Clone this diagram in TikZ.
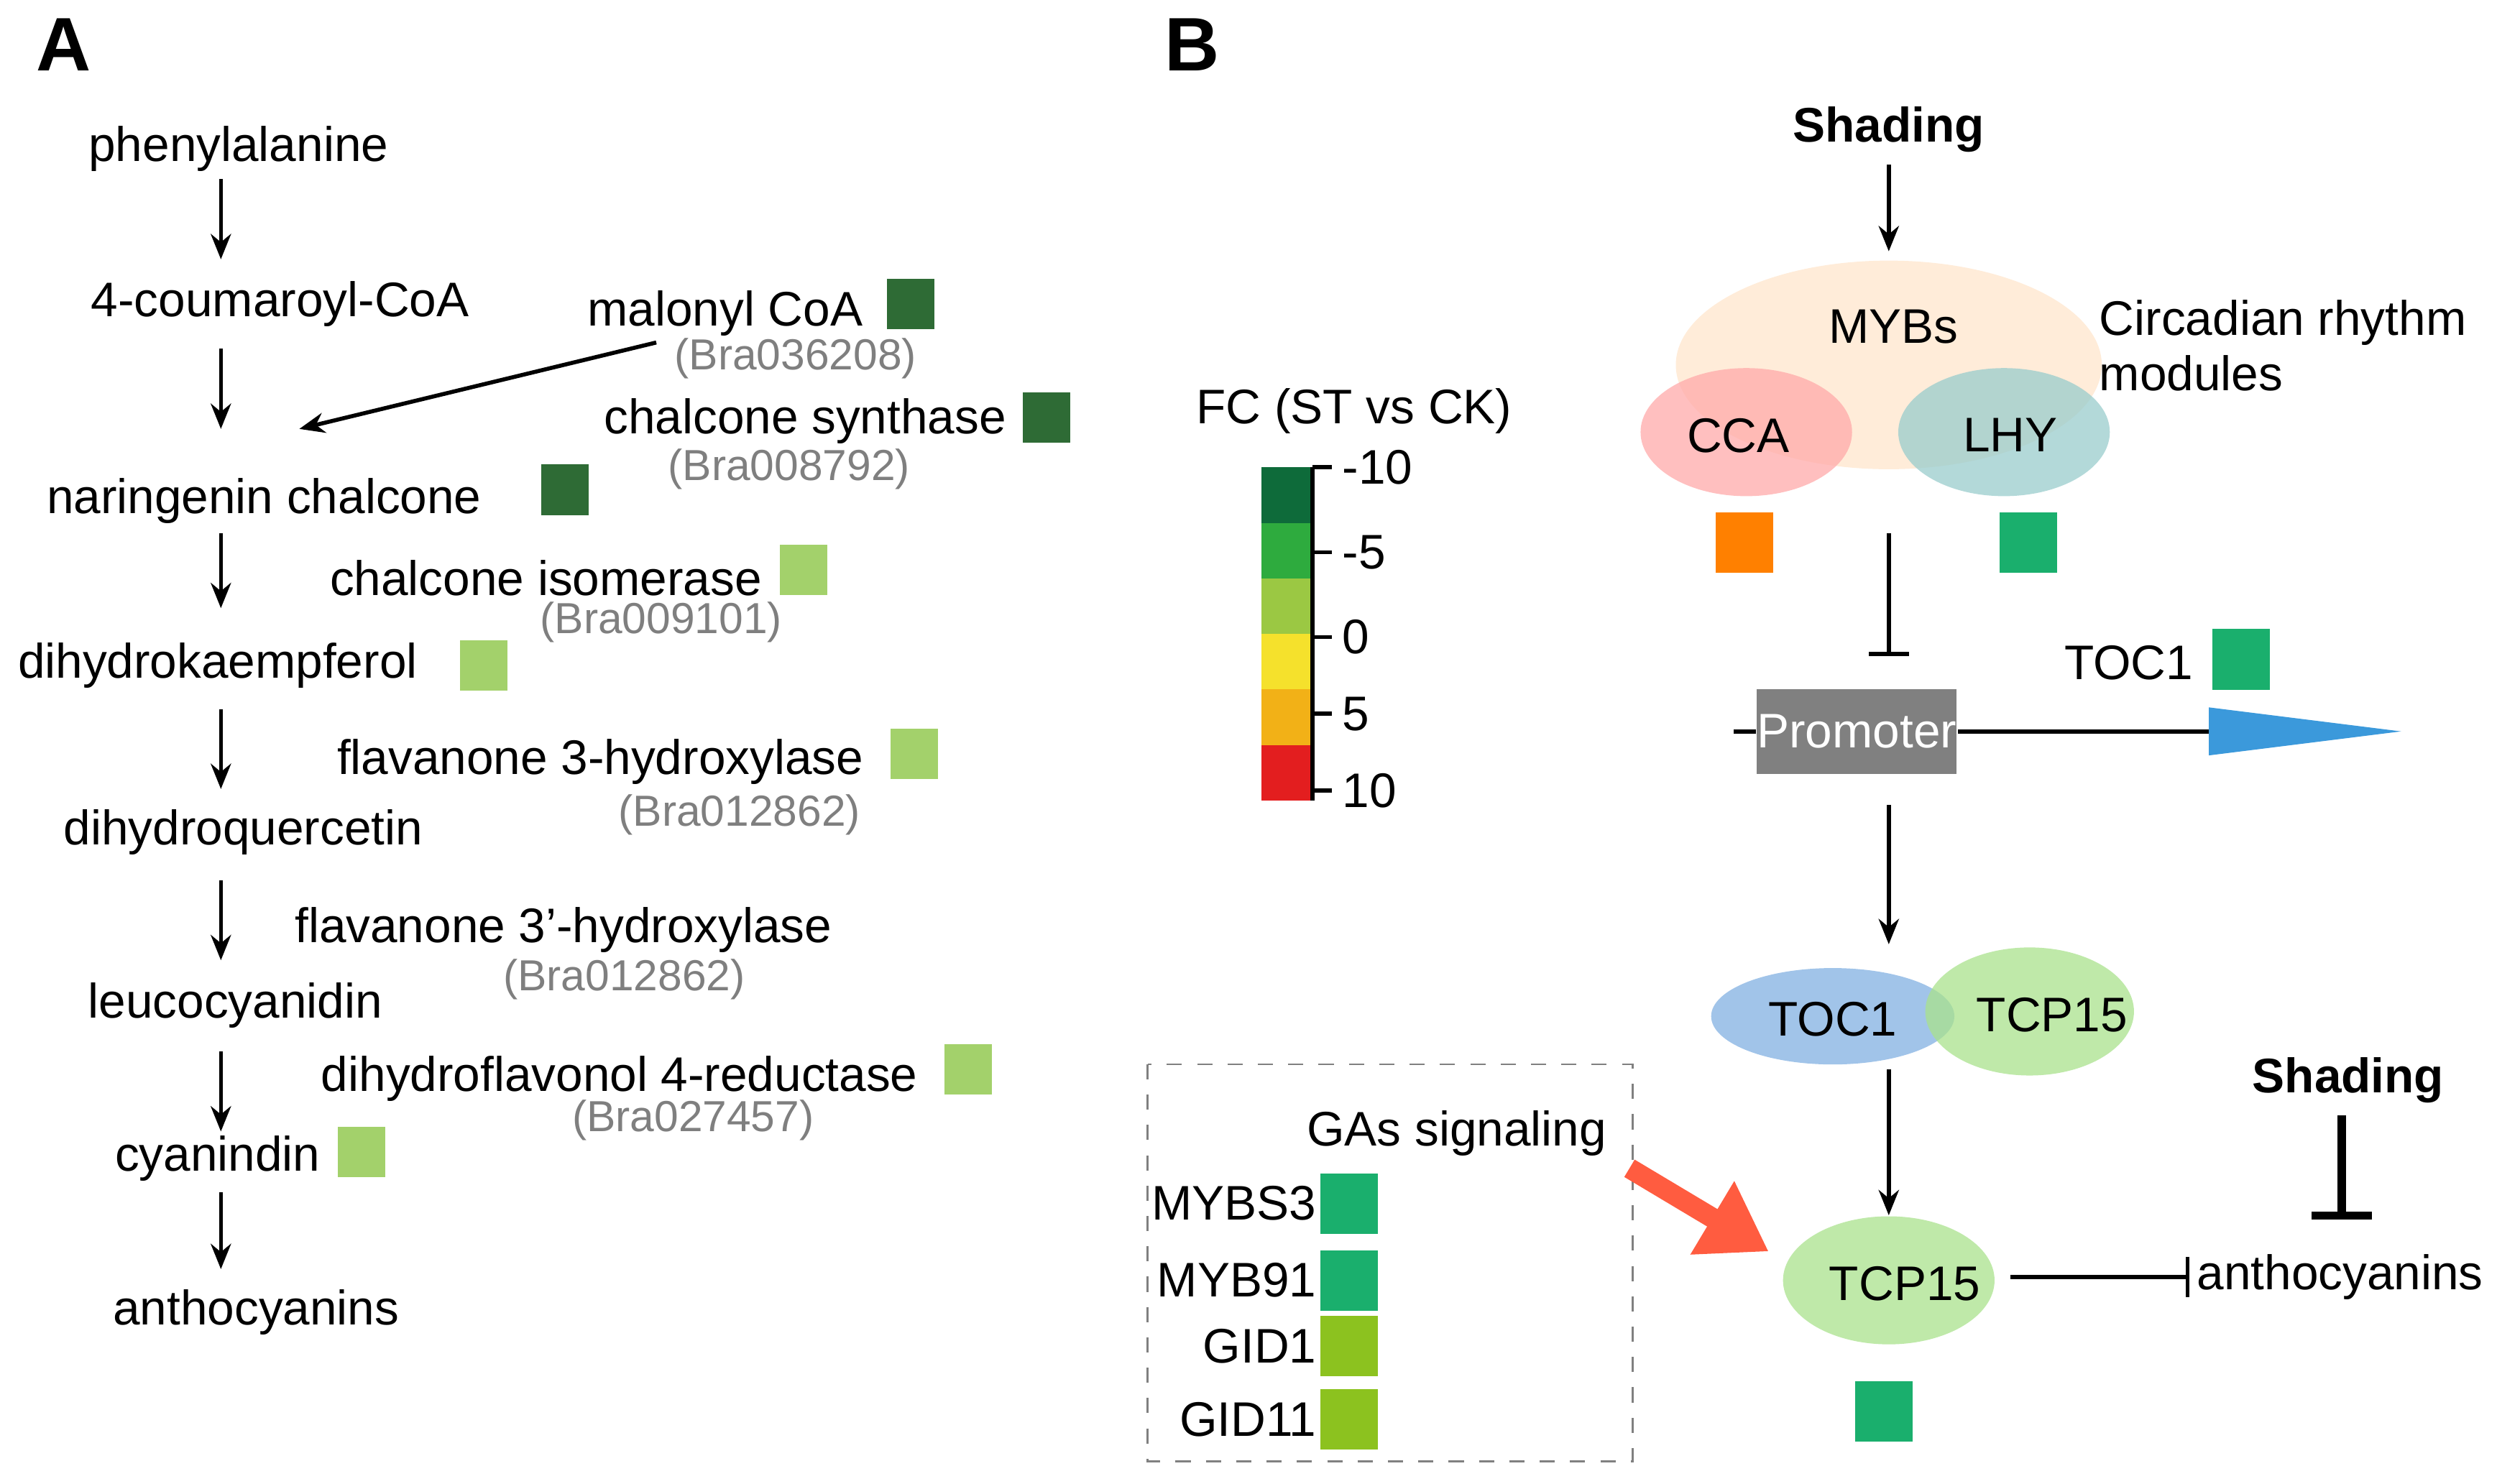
\documentclass[tikz,border=0pt]{standalone}
\usepackage{fontspec}
\setmainfont{Liberation Sans}
\usetikzlibrary{arrows.meta,shapes.geometric}
\definecolor{dgreen}{HTML}{2E6B35}
\definecolor{lgreen}{HTML}{A3D16B}
\definecolor{mgreen}{HTML}{1AAF6D}
\definecolor{ygreen}{HTML}{8CC21F}
\definecolor{gtext}{HTML}{7F7F7F}
\tikzset{
  lbl/.style={font=\fontsize{9.6}{11}\selectfont, inner sep=0pt},
  gene/.style={font=\fontsize{8.6}{10}\selectfont, text=gtext, inner sep=0pt},
  sq/.style={minimum width=0.33cm, minimum height=0.35cm, inner sep=0pt},
  bsq/.style={minimum width=0.4cm, minimum height=0.42cm, inner sep=0pt},
  flow/.style={-{Stealth[length=5pt,width=4pt]}, thick},
  inh/.style={-{Bar[width=8pt]}, thick},
  oval/.style={ellipse, inner sep=0pt, fill opacity=0.75, text opacity=1}
}
\begin{document}
\begin{tikzpicture}[x=0.01113cm, y=-0.01113cm]
    \useasboundingbox (0,0) rectangle (1560,927);

    % panel A
    \node [font=\fontsize{15}{17}\selectfont\bfseries] (la) at (40,28) {A};
    \node [lbl] (phe) at (149,93) {phenylalanine};
    \node [lbl] (cou) at (175,190) {4-coumaroyl-CoA};
    \node [lbl] (nar) at (165,313) {naringenin chalcone};
    \node [lbl] (dhk) at (136,416) {dihydrokaempferol};
    \node [lbl] (dhq) at (152,520) {dihydroquercetin};
    \node [lbl] (leu) at (147,628) {leucocyanidin};
    \node [lbl] (cya) at (136,724) {cyanindin};
    \node [lbl] (ant) at (160,820) {anthocyanins};

    \coordinate (a1) at (138,112); \coordinate (b1) at (138,162);
    \coordinate (a2) at (138,218); \coordinate (b2) at (138,268);
    \coordinate (a3) at (138,333); \coordinate (b3) at (138,380);
    \coordinate (a4) at (138,443); \coordinate (b4) at (138,493);
    \coordinate (a5) at (138,550); \coordinate (b5) at (138,600);
    \coordinate (a6) at (138,657); \coordinate (b6) at (138,707);
    \coordinate (a7) at (138,745); \coordinate (b7) at (138,793);
    \foreach \i in {1,...,7}
      \draw [flow] (a\i) -- (b\i);

    \node [lbl] (mal) at (453,196) {malonyl CoA};
    \node [sq, fill=dgreen] (smal) at (569,190) {};
    \node [gene] (gmal) at (497,224) {(Bra036208)};
    \coordinate (mfrom) at (410,214);
    \coordinate (mto) at (187,268);
    \draw [flow] (mfrom) -- (mto);
    \node [lbl] (chs) at (503,263) {chalcone synthase};
    \node [sq, fill=dgreen] (schs) at (654,261) {};
    \node [gene] (gchs) at (493,293) {(Bra008792)};
    \node [sq, fill=dgreen] (snar) at (353,306) {};
    \node [lbl] (chi) at (341,361) {chalcone isomerase};
    \node [sq, fill=lgreen] (schi) at (502,356) {};
    \node [gene] (gchi) at (413,389) {(Bra009101)};
    \node [sq, fill=lgreen] (sdhk) at (302,416) {};
    \node [lbl] (f3h) at (375,476) {flavanone 3-hydroxylase};
    \node [sq, fill=lgreen] (sf3h) at (571,471) {};
    \node [gene] (gf3h) at (462,509) {(Bra012862)};
    \node [lbl] (f3p) at (352,581) {flavanone 3’-hydroxylase};
    \node [gene] (gf3p) at (390,612) {(Bra012862)};
    \node [lbl] (dfr) at (387,674) {dihydroflavonol 4-reductase};
    \node [sq, fill=lgreen] (sdfr) at (605,668) {};
    \node [gene] (gdfr) at (433,700) {(Bra027457)};
    \node [sq, fill=lgreen] (scya) at (226,720) {};

    % colour scale
    \node [lbl] (fc) at (846,257) {FC (ST vs CK)};
    \foreach \c [count=\k from 0] in {0E6B3A,2EAB3E,9BC843,F5E12C,F2B117,E31E1F} {
      \definecolor{seg}{HTML}{\c}
      \fill [seg] (788,292+34.7*\k) rectangle (820,292+34.7*\k+34.7);
    }
    \draw [thick] (820,292) -- (820,500);
    \foreach \y/\t in {292/-10,345/-5,398/0,446/5,494/10} {
      \draw [thick] (820,\y) -- (832,\y);
      \node [lbl, anchor=west] at (838,\y) {\t};
    }

    % panel B
    \node [font=\fontsize{15}{17}\selectfont\bfseries] (lb) at (745,28) {B};
    \node [lbl, font=\fontsize{9.6}{11}\selectfont\bfseries] (sh1) at (1180,81) {Shading};
    \node [oval, fill=orange!20, minimum width=2.96cm, minimum height=1.45cm] (myb) at (1180,228) {};
    \node [lbl] (mybs) at (1183,204) {MYBs};
    \node [lbl, anchor=west, align=left] (circ) at (1311,216) {Circadian rhythm\\modules};
    \node [oval, fill=pink!70!red!70, minimum width=1.47cm, minimum height=0.89cm] (cca) at (1091,270) {};
    \node [oval, fill=teal!40, minimum width=1.47cm, minimum height=0.89cm] (lhy) at (1252,270) {};
    \node [lbl] at (1086,272) {CCA};
    \node [lbl] at (1256,272) {LHY};
    \node [bsq, fill=orange] (scca) at (1090,339) {};
    \node [bsq, fill=mgreen] (slhy) at (1267,339) {};
    \coordinate (s1) at (1180,103);
    \coordinate (s2) at (1180,157);
    \draw [flow] (s1) -- (s2);

    \node [fill=gray, text=white, lbl, minimum width=1.37cm, minimum height=0.59cm] (prom) at (1160,457) {Promoter};
    \coordinate (pl) at (1083,457);
    \coordinate (pr) at (1380,457);
    \draw [thick] (pl) -- (prom) -- (pr);
    \fill [cyan!70!blue!80] (1380,442) -- (1500,457) -- (1380,472) -- cycle;
    \node [lbl] (toc) at (1330,414) {TOC1};
    \node [bsq, fill=mgreen] (stoc) at (1400,412) {};
    \coordinate (i1) at (1180,333);
    \coordinate (i2) at (1180,410);
    \draw [inh] (i1) -- (i2);

    \node [oval, fill=cyan!60!blue!50, minimum width=1.69cm, minimum height=0.67cm] (toc2) at (1145,635) {};
    \node [oval, fill=green!50!olive!45, minimum width=1.45cm, minimum height=0.89cm] (tcp) at (1268,632) {};
    \node [lbl] at (1145,637) {TOC1};
    \node [lbl] at (1282,634) {TCP15};
    \coordinate (p1) at (1180,503);
    \coordinate (p2) at (1180,590);
    \draw [flow] (p1) -- (p2);

    \node [oval, fill=green!50!olive!45, minimum width=1.47cm, minimum height=0.89cm] (tcp2) at (1180,800) {};
    \node [lbl] at (1190,802) {TCP15};
    \coordinate (q1) at (1180,668);
    \draw [flow] (q1) -- (tcp2);
    \node [bsq, fill=mgreen] (stcp) at (1177,882) {};

    \node [lbl] (ant2) at (1462,798) {anthocyanins};
    \coordinate (t1) at (1256,798);
    \coordinate (t2) at (1368,798);
    \draw [inh] (t1) -- (t2);
    \node [lbl, font=\fontsize{9.6}{11}\selectfont\bfseries] (sh2) at (1467,675) {Shading};
    \coordinate (u1) at (1463,697);
    \coordinate (u2) at (1463,762);
    \draw [line width=1.6pt, -{Bar[width=12pt,line width=1.6pt]}] (u1) -- (u2);

    % GAs box
    \draw [gray, dashed] (717,665) rectangle (1020,913);
    \node [lbl] (gas) at (910,708) {GAs signaling};
    \foreach \n/\t/\y/\c in {m3/MYBS3/752/mgreen,m91/MYB91/800/mgreen,g1/GID1/841/ygreen,g11/GID11/887/ygreen} {
      \node [bsq, fill=\c] (s\n) at (843,\y) {};
      \node [lbl, anchor=east] (\n) at (823,\y) {\t};
    }
    \coordinate (ga) at (1018,730);
    \coordinate (gb) at (1105,782);
    \draw [line width=4pt, red!70!orange!75, -{Triangle[length=13pt,width=16pt]}] (ga) -- (gb);
\end{tikzpicture}
\end{document}
